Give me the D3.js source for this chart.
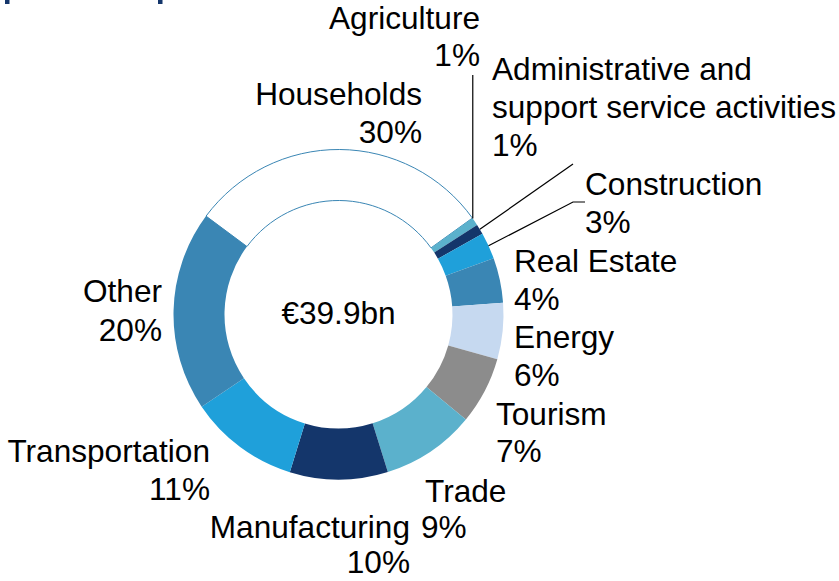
<!DOCTYPE html>
<html>
<head>
<meta charset="utf-8">
<script src="https://cdn.jsdelivr.net/npm/d3@7"></script>
<style>
  html, body { margin: 0; padding: 0; background: #fff; }
  svg text { font-family: "Liberation Sans", Arial, sans-serif; font-size: 31.6px; fill: #000; }
</style>
</head>
<body>
<svg id="chart" width="839" height="581"></svg>
<script>
// Loan book by sector, share of total (%)
const sectors = ["Households", "Agriculture", "Administrative and support service activities",
  "Construction", "Real Estate", "Energy", "Tourism", "Trade", "Manufacturing",
  "Transportation", "Other"];
const shares = [29.9, 0.8, 1.0, 2.6, 4.4, 5.5, 6.6, 9.2, 9.6, 10.8, 19.6];
const sliceColors = ["#ffffff", "#5bb1cc", "#14366b", "#1fa0da", "#3a86b4", "#c6d9f0",
  "#8c8c8c", "#5bb1cc", "#14366b", "#1fa0da", "#3a86b4"];
// Label text lines (the share line is appended from the data)
const labelLines = [["Households"], ["Agriculture"], ["Administrative and", "support service activities"],
  ["Construction"], ["Real Estate"], ["Energy"], ["Tourism"], ["Trade"], ["Manufacturing"],
  ["Transportation"], ["Other"]];
const totalLabel = "€39.9bn";

const svg = d3.select("#chart");
const cx = 338.5, cy = 314.5, R = 165, r = 114;
const g = svg.append("g").attr("transform", `translate(${cx},${cy})`);

// clipped heading above the chart
svg.append("rect").attr("x", 5).attr("y", 0).attr("width", 4.5).attr("height", 4).attr("fill", "#14366b");
svg.append("rect").attr("x", 158).attr("y", 0).attr("width", 4.5).attr("height", 4).attr("fill", "#14366b");

const deg = Math.PI / 180;
const pie = d3.pie().sort(null).value(d => d)
  .startAngle(-53.4 * deg).endAngle(-53.4 * deg + 2 * Math.PI);
const arcs = pie(shares);
const arc = d3.arc().innerRadius(r).outerRadius(R);

g.selectAll("path.slice").data(arcs).join("path")
  .attr("class", "slice")
  .attr("d", arc)
  .attr("fill", (d, i) => sliceColors[i])
  .attr("stroke", (d, i) => i === 0 ? "#3a86b4" : "none")
  .attr("stroke-width", 1);

// label placement: anchor, x, first baseline, gap to the share line, share line x shift
const lineH = 38;
const labelPos = [
  { anchor: "end", x: 422, y: 105, gap: 38, dx: 0 },
  { anchor: "end", x: 480, y: 29, gap: 37, dx: 0 },
  { anchor: "start", x: 492, y: 80, gap: 38, dx: 0 },
  { anchor: "start", x: 585, y: 195, gap: 38, dx: 0 },
  { anchor: "start", x: 514, y: 272, gap: 38, dx: 0 },
  { anchor: "start", x: 514, y: 348, gap: 38, dx: 0 },
  { anchor: "start", x: 496, y: 425, gap: 37, dx: 0 },
  { anchor: "start", x: 425, y: 502, gap: 36, dx: -4 },
  { anchor: "end", x: 410, y: 538, gap: 35, dx: 0 },
  { anchor: "end", x: 210, y: 462, gap: 38, dx: 0 },
  { anchor: "end", x: 162, y: 302, gap: 39, dx: 0 }
];

const labels = svg.append("g");
sectors.forEach((s, i) => {
  const p = labelPos[i];
  const lines = labelLines[i];
  const pct = Math.round(shares[i]) + "%";
  const t = labels.append("text").attr("text-anchor", p.anchor);
  lines.forEach((ln, k) => {
    t.append("tspan").attr("x", p.x).attr("y", p.y + k * lineH).text(ln);
  });
  t.append("tspan").attr("x", p.x + p.dx)
    .attr("y", p.y + (lines.length - 1) * lineH + p.gap).text(pct);
});

// leader lines for the narrow slices
function outerPoint(d) {
  const a = (d.startAngle + d.endAngle) / 2;
  return [cx + R * Math.sin(a), cy - R * Math.cos(a)];
}
const leaders = svg.append("g").attr("stroke", "#000").attr("stroke-width", 1.2).attr("fill", "none");
const pAg = outerPoint(arcs[1]);
leaders.append("line").attr("x1", pAg[0] - 2).attr("y1", pAg[1] - 3).attr("x2", pAg[0] - 2).attr("y2", 75);
const pAd = outerPoint(arcs[2]);
leaders.append("line").attr("x1", pAd[0]).attr("y1", pAd[1]).attr("x2", 573).attr("y2", 164);
const pCo = outerPoint(arcs[3]);
leaders.append("polyline").attr("points", `${pCo[0]},${pCo[1]} 573,202 585,202`);

// total in the centre
g.append("text").attr("text-anchor", "middle").attr("x", 0).attr("y", 9).text(totalLabel);
</script>
</body>
</html>
